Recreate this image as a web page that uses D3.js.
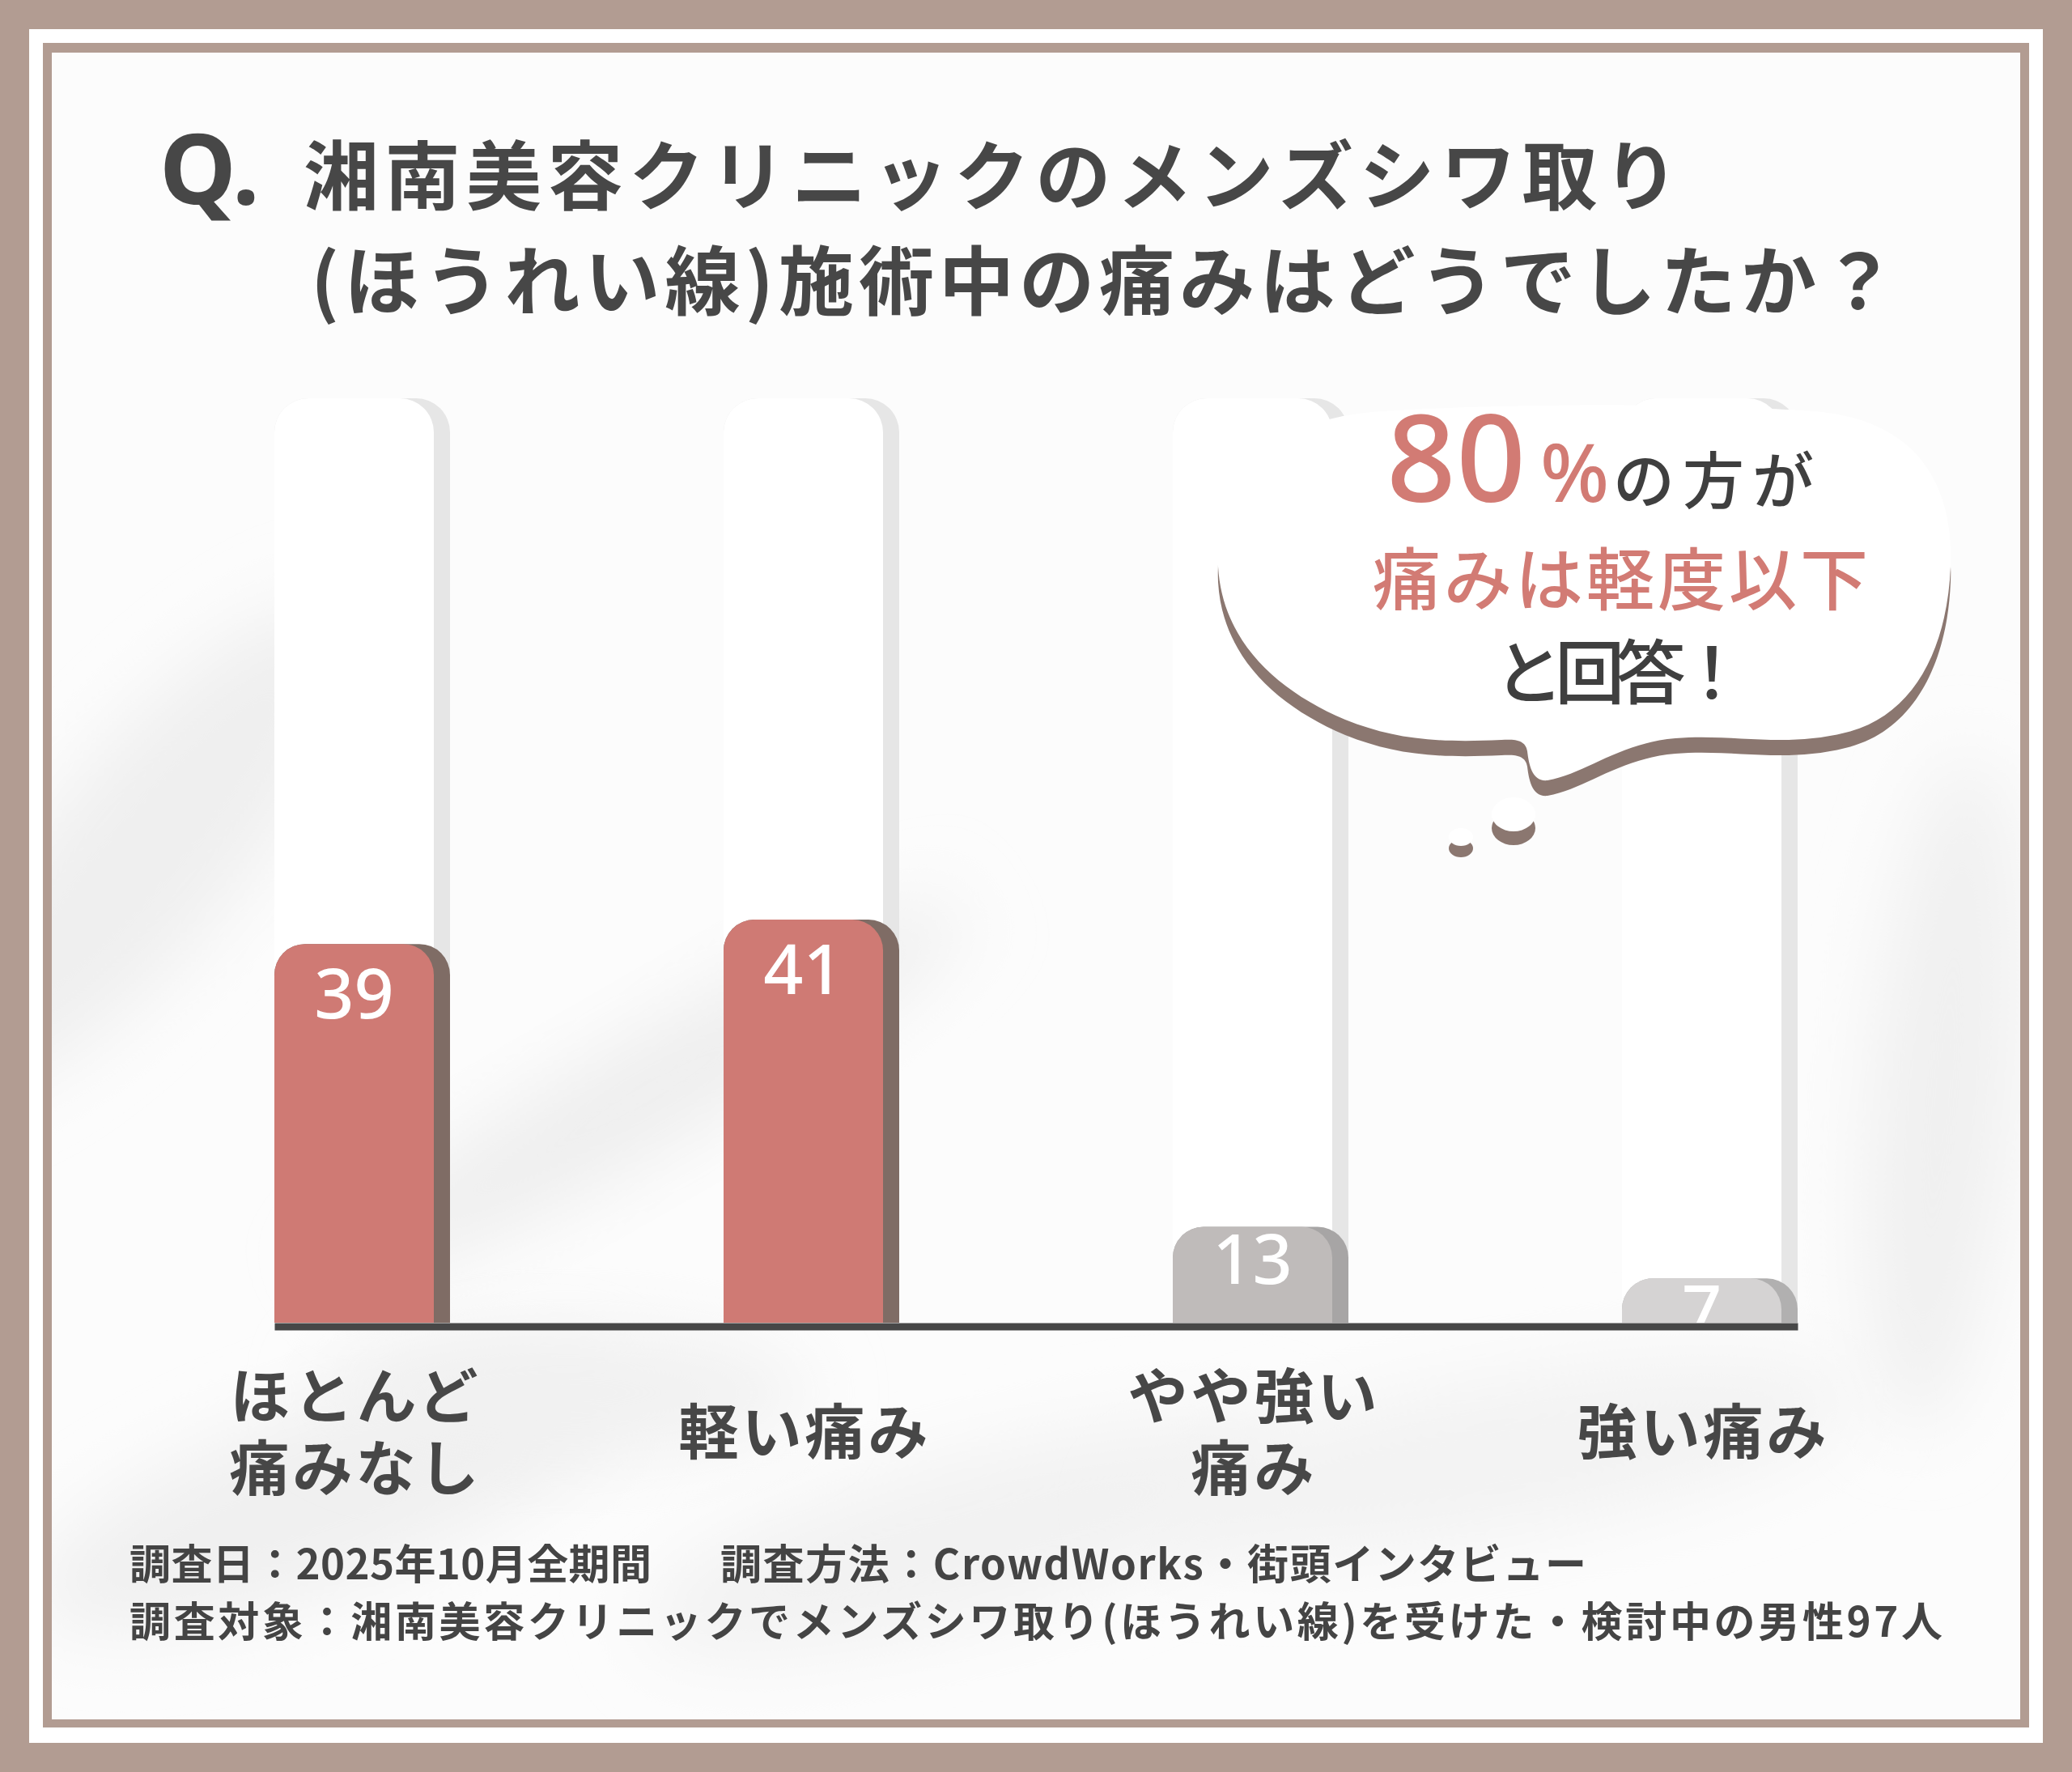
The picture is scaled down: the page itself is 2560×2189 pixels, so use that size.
<!DOCTYPE html>
<html><head><meta charset="utf-8">
<script src="https://cdn.jsdelivr.net/npm/d3@7"></script>
<style>html,body{margin:0;padding:0;background:#b29c92;}svg{display:block;}</style>
</head><body>
<script>
// ---- data ----
const categoryIds = ["none", "light", "mid", "strong"];
const categoryLines = [["ほとんど", "痛みなし"], ["軽い痛み"], ["やや強い", "痛み"], ["強い痛み"]];
const values = [39, 41, 13, 7];
const titleLines = ["湘南美容クリニックのメンズシワ取り", "(ほうれい線)施術中の痛みはどうでしたか？"];
const calloutNumber = "80";
const calloutLines = ["痛みは軽度以下", "と回答！"];
const footerLines = ["調査日：2025年10月全期間", "調査方法：CrowdWorks・街頭インタビュー", "調査対象：湘南美容クリニックでメンズシワ取り(ほうれい線)を受けた・検討中の男性97人"];

// ---- style ----
const W = 2560, H = 2189;
const BROWN = "#b29c92", DARK = "#474747", RED = "#d27b74";
const frontColors = ["#cf7a74", "#cf7a74", "#bfbbba", "#d5d3d3"];
const sideColors = ["#7f6c65", "#7f6c65", "#a7a5a5", "#b1b0b0"];
const JP = "'Noto Sans CJK JP','Noto Sans',sans-serif";

const svg = d3.select("body").append("svg").attr("width", W).attr("height", H);
const defs = svg.append("defs");
defs.append("filter").attr("id", "blur").attr("x", "-50%").attr("y", "-50%").attr("width", "200%").attr("height", "200%")
  .append("feGaussianBlur").attr("stdDeviation", 45);
defs.append("clipPath").attr("id", "inner").append("rect").attr("x", 64).attr("y", 65).attr("width", 2432).attr("height", 2059);

// frame
svg.append("rect").attr("width", W).attr("height", H).attr("fill", BROWN);
svg.append("rect").attr("x", 36).attr("y", 36).attr("width", W - 72).attr("height", 2153 - 36).attr("fill", "#fff");
svg.append("rect").attr("x", 53).attr("y", 53).attr("width", 2507 - 53).attr("height", 2134 - 53).attr("fill", BROWN);
svg.append("rect").attr("x", 64).attr("y", 65).attr("width", 2432).attr("height", 2059).attr("fill", "#fcfcfc");

// soft fabric-like background
const bg = svg.append("g").attr("clip-path", "url(#inner)");
const blobs = [
  {cx: 180, cy: 1050, rx: 120, ry: 380, rot: 40, c: "#efefef"},
  {cx: 800, cy: 1350, rx: 450, ry: 70, rot: -30, c: "#eeeeee"},
  {cx: 400, cy: 1850, rx: 380, ry: 110, rot: -20, c: "#f0f0f0"},
  {cx: 1200, cy: 1900, rx: 420, ry: 100, rot: -15, c: "#f2f2f2"},
  {cx: 2400, cy: 1350, rx: 90, ry: 420, rot: 5, c: "#f0f0f0"},
  {cx: 1850, cy: 1800, rx: 450, ry: 100, rot: -10, c: "#f3f3f3"},
  {cx: 700, cy: 1720, rx: 300, ry: 80, rot: 0, c: "#f1f1f1"}
];
bg.selectAll("ellipse").data(blobs).join("ellipse")
  .attr("cx", d => d.cx).attr("cy", d => d.cy).attr("rx", d => d.rx).attr("ry", d => d.ry)
  .attr("transform", d => `rotate(${d.rot},${d.cx},${d.cy})`)
  .attr("fill", d => d.c).attr("filter", "url(#blur)");

// ---- title ----
svg.append("text").attr("x", 197).attr("y", 252).attr("font-family", "'Noto Sans',sans-serif").attr("font-weight", 700)
  .attr("font-size", 120).attr("fill", DARK).text("Q.");
const tl = [{x: 375, y: 252, len: 1699}, {x: 384, y: 382, len: 1959}];
svg.selectAll("text.title").data(titleLines).join("text").attr("class", "title")
  .attr("x", (d, i) => tl[i].x).attr("y", (d, i) => tl[i].y)
  .attr("textLength", (d, i) => tl[i].len).attr("lengthAdjust", "spacing")
  .attr("font-family", JP).attr("font-weight", 700).attr("font-size", 93).attr("fill", DARK).text(d => d);

// ---- scales ----
const baseY = 1634;
const x = d3.scaleBand().domain(categoryIds).range([339, 2221]).paddingInner(0.609).paddingOuter(0);
const y = d3.scalePow().exponent(1.25).domain([0, 41]).range([baseY, 1136]);
const bw = x.bandwidth(), sideW = 20, fw = bw - sideW, R = 38;
const trackTop = 492;

defs.append("clipPath").attr("id", "aboveAxis").append("rect").attr("x", 0).attr("y", 0).attr("width", W).attr("height", baseY);

function topRounded(x0, top, w, h, r) {
  r = Math.min(r, h, w / 2);
  return `M${x0},${top + h}V${top + r}A${r},${r} 0 0 1 ${x0 + r},${top}H${x0 + w - r}A${r},${r} 0 0 1 ${x0 + w},${top + r}V${top + h}Z`;
}

const rows = categoryIds.map((id, i) => ({id, v: values[i], i, lines: categoryLines[i]}));

// ghost tracks
const ghosts = svg.append("g");
ghosts.selectAll("path.gs").data(rows).join("path").attr("class", "gs")
  .attr("d", d => topRounded(x(d.id), trackTop, bw, baseY - trackTop, 42)).attr("fill", "#e6e6e6");
ghosts.selectAll("path.gf").data(rows).join("path").attr("class", "gf")
  .attr("d", d => topRounded(x(d.id), trackTop, fw, baseY - trackTop, 42)).attr("fill", "#ffffff");

// ---- thought bubble ----
const bubble = svg.append("g");
const bubblePath = "M1505,700 C1500,590 1570,515 1710,508 C1860,498 2100,498 2240,508 C2370,518 2414,600 2410,700 " +
  "C2406,800 2365,885 2280,905 C2205,924 2140,906 2070,912 C2000,918 1960,955 1912,964 " +
  "C1893,966 1889,945 1887,928 C1885,914 1872,913 1855,914 C1770,918 1720,912 1662,889 C1575,852 1510,790 1505,700Z";
bubble.append("path").attr("d", bubblePath).attr("fill", "#8b7770").attr("transform", "translate(0,19)");
bubble.append("path").attr("d", bubblePath).attr("fill", "#ffffff");
const dots = [{cx: 1870, cy: 1006, rx: 27, ry: 21, off: 17}, {cx: 1805, cy: 1034, rx: 15, ry: 11, off: 14}];
bubble.selectAll("ellipse.sh").data(dots).join("ellipse").attr("class", "sh")
  .attr("cx", d => d.cx).attr("cy", d => d.cy + d.off).attr("rx", d => d.rx).attr("ry", d => d.ry).attr("fill", "#8b7770");
bubble.selectAll("ellipse.wh").data(dots).join("ellipse").attr("class", "wh")
  .attr("cx", d => d.cx).attr("cy", d => d.cy).attr("rx", d => d.rx).attr("ry", d => d.ry).attr("fill", "#fff");

bubble.append("text").attr("x", 1713).attr("y", 620).attr("font-family", "'Noto Sans',sans-serif").attr("font-weight", 500)
  .attr("font-size", 150).attr("fill", RED).attr("textLength", 172).text(calloutNumber);
bubble.append("text").attr("x", 1903).attr("y", 620).attr("font-family", "'Noto Sans',sans-serif").attr("font-weight", 500)
  .attr("font-size", 100).attr("fill", RED).text("%");
bubble.append("text").attr("x", 1993).attr("y", 622).attr("font-family", JP).attr("font-weight", 500)
  .attr("font-size", 76).attr("fill", "#3f3f3f").attr("textLength", 248).attr("lengthAdjust", "spacing").text("の方が");
bubble.append("text").attr("x", 2002).attr("y", 747).attr("text-anchor", "middle").attr("font-family", JP).attr("font-weight", 500)
  .attr("font-size", 84).attr("fill", RED).attr("textLength", 612).attr("lengthAdjust", "spacing").text(calloutLines[0]);
bubble.append("text").attr("x", 2002).attr("y", 863).attr("text-anchor", "middle").attr("font-family", JP).attr("font-weight", 500)
  .attr("font-size", 86).attr("fill", "#3f3f3f").attr("textLength", 312).attr("lengthAdjust", "spacing").text(calloutLines[1]);

// ---- bars ----
const bars = svg.append("g");
bars.selectAll("path.side").data(rows).join("path").attr("class", "side")
  .attr("d", d => topRounded(x(d.id), y(d.v), bw, baseY - y(d.v), R)).attr("fill", d => sideColors[d.i]);
bars.selectAll("path.front").data(rows).join("path").attr("class", "front")
  .attr("d", d => topRounded(x(d.id), y(d.v), fw, baseY - y(d.v), R)).attr("fill", d => frontColors[d.i]);
bars.append("g").attr("clip-path", "url(#aboveAxis)")
  .selectAll("text.val").data(rows).join("text").attr("class", "val")
  .attr("x", d => x(d.id) + fw / 2)
  .attr("y", d => (baseY - y(d.v) > 200) ? y(d.v) + 92 : y(d.v) + 70)
  .attr("text-anchor", "middle").attr("font-family", "'Noto Sans',sans-serif").attr("font-weight", 500)
  .attr("font-size", 86).attr("fill", "#fff").text(d => d.v);

// ---- axis ----
const axisG = svg.append("g").attr("transform", `translate(0,${baseY + 4.5})`)
  .call(d3.axisBottom(x).tickSize(0).tickSizeOuter(0).tickFormat(() => ""));
axisG.select(".domain").attr("stroke", "#474747").attr("stroke-width", 9);

const labels = svg.append("g");
rows.forEach(d => {
  const n = d.lines.length;
  d.lines.forEach((ln, j) => {
    labels.append("text").attr("text-anchor", "middle").attr("font-family", JP).attr("font-weight", 700)
      .attr("font-size", 74).attr("fill", DARK).attr("letter-spacing", 4)
      .attr("x", x(d.id) + fw / 2 + 2).attr("y", 1796 + (j - (n - 1) / 2) * 89).text(ln);
  });
});

// ---- footer ----
const fl = [{x: 160, y: 1951, len: 645}, {x: 890, y: 1951, len: 1070}, {x: 160, y: 2022, len: 2240}];
svg.selectAll("text.foot").data(footerLines).join("text").attr("class", "foot")
  .attr("x", (d, i) => fl[i].x).attr("y", (d, i) => fl[i].y)
  .attr("textLength", (d, i) => fl[i].len).attr("lengthAdjust", "spacing")
  .attr("font-family", JP).attr("font-weight", 700).attr("font-size", 51).attr("fill", "#444").text(d => d);
</script>
</body></html>
